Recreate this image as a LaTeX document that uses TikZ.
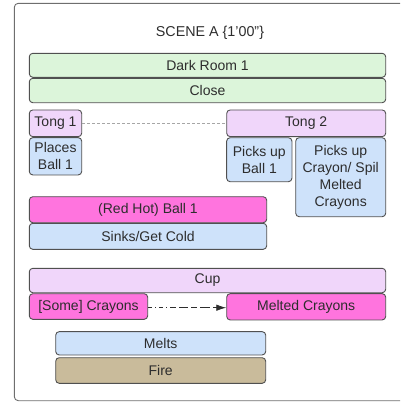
\documentclass[tikz,border=0pt]{standalone}
\usepackage{fontspec}
\setmainfont{Liberation Sans}
\usetikzlibrary{arrows.meta}

\definecolor{framegray}{RGB}{110,110,110}
\definecolor{edgegray}{RGB}{80,80,80}
\definecolor{txtgray}{RGB}{45,45,45}
\definecolor{fgreen}{RGB}{220,245,218}
\definecolor{fpurple}{RGB}{240,214,250}
\definecolor{fblue}{RGB}{206,226,250}
\definecolor{fpink}{RGB}{255,116,222}
\definecolor{ftan}{RGB}{201,187,155}

\tikzset{
  box/.style={draw=edgegray, line width=0.9pt, rounded corners=3.5pt,
    inner sep=0pt, align=center, text=txtgray,
    font=\fontsize{14}{17}\selectfont},
  greenbox/.style={box, fill=fgreen},
  purplebox/.style={box, fill=fpurple},
  bluebox/.style={box, fill=fblue},
  pinkbox/.style={box, fill=fpink},
  tanbox/.style={box, fill=ftan},
  sz/.style 2 args={minimum width=#1pt, minimum height=#2pt},
}

\begin{document}
\begin{tikzpicture}[x=1pt,y=-1pt]
  \useasboundingbox (0,0) rectangle (400,402);
  \begin{scope}
    \clip (0,0) rectangle (400,402);
    % outer frame of the scene
    \draw[framegray, line width=0.9pt, rounded corners=4pt]
      (14.3,3.3) rectangle (430,400.7);
  \end{scope}

  \node[text=txtgray, font=\fontsize{14.3}{17}\selectfont] (title) at (210,33) {SCENE A \{1'00"\}};

  \node[greenbox, sz={356.4}{24}] (dark) at (207.5,65.3) {Dark Room 1};
  \node[greenbox, sz={356.4}{24.4}] (close) at (207.5,90.5) {Close};

  \node[purplebox, sz={52.4}{26.7}] (tong1) at (55.5,123.3) {Tong 1};
  \node[purplebox, sz={159}{26.7}] (tong2) at (306.2,123.3) {Tong 2};

  \node[bluebox, sz={52.4}{37.3}] (places) at (55.5,156.3) {Places\\Ball 1};
  \node[bluebox, sz={65.3}{44}] (pickball) at (259.3,159.7) {Picks up\\Ball 1};
  \node[bluebox, sz={90}{79}] (pickcray) at (340.7,177.2) {Picks up\\Crayon/ Spil\\Melted\\Crayons};

  \node[pinkbox, sz={237.4}{26}] (redhot) at (148,209.7) {(Red Hot) Ball 1};
  \node[bluebox, sz={237.4}{26}] (sinks) at (148,236.3) {Sinks/Get Cold};

  \node[purplebox, sz={356.4}{24.4}] (cup) at (207.5,280.5) {Cup};
  \node[pinkbox, sz={118.4}{25.6}] (some) at (88.5,306.5) {[Some] Crayons};
  \node[pinkbox, sz={159}{26.3}] (melted) at (306.2,306.8) {Melted Crayons};

  \node[bluebox, sz={210}{23.3}] (melts) at (160.7,343.3) {Melts};
  \node[tanbox, sz={210}{25.6}] (fire) at (160.7,370.5) {Fire};

  % links between the boxes
  \draw[gray!70, line width=0.6pt, dash pattern=on 3pt off 2pt]
    (tong1.east) -- (tong2.west);
  \draw[txtgray, line width=0.8pt,
    dash pattern=on 4pt off 3pt on 1pt off 3pt on 4pt off 3pt on 1pt off 3pt on 6pt off 3pt on 9pt off 3pt on 6pt off 3pt on 10pt off 3pt,
    -{Latex[length=10pt,width=6.5pt]}]
    (some.east |- 0,307.7) -- (melted.west |- 0,307.7);
\end{tikzpicture}
\end{document}
